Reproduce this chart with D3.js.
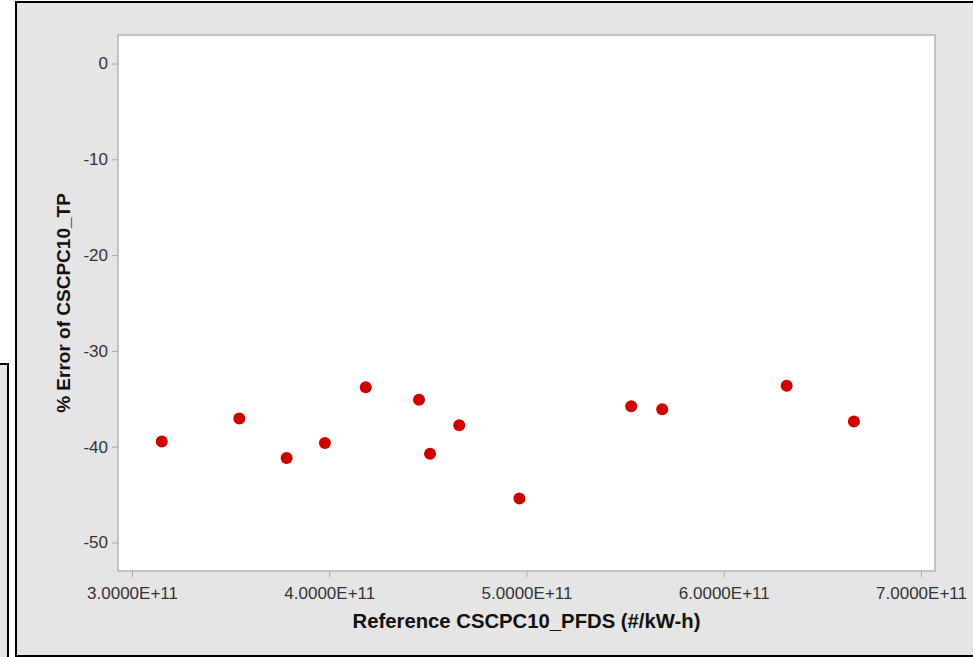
<!DOCTYPE html>
<html>
<head>
<meta charset="utf-8">
<script src="https://cdn.jsdelivr.net/npm/d3@7"></script>
<style>
  body { margin: 0; background: #fff; }
  svg { display: block; }
</style>
</head>
<body>
<div id="chart"></div>
<script>
// reference value (#/kW-h) vs % error
var refValues = [3.151e11, 3.544e11, 3.784e11, 3.978e11, 4.185e11, 4.455e11, 4.511e11,
                 4.659e11, 4.964e11, 5.531e11, 5.688e11, 6.319e11, 6.660e11];
var pctError = [-39.45, -37.07, -41.19, -39.62, -33.80, -35.09, -40.73,
                -37.77, -45.40, -35.79, -36.10, -33.63, -37.36];
var xTicks = [3e11, 4e11, 5e11, 6e11, 7e11];
var yTicks = [0, -10, -20, -30, -40, -50];

var width = 973, height = 657;
var plot = {left: 118, top: 35, right: 935, bottom: 571};

var svg = d3.select('#chart').append('svg')
    .attr('width', width)
    .attr('height', height);

// stray frame on the far left
svg.append('rect')
    .attr('x', -10).attr('y', 364)
    .attr('width', 18).attr('height', 400)
    .attr('fill', '#e5e5e5')
    .attr('stroke', '#000')
    .attr('stroke-width', 2);

// main frame
svg.append('rect')
    .attr('x', 16).attr('y', 2)
    .attr('width', 980).attr('height', 654)
    .attr('fill', '#e5e5e5')
    .attr('stroke', '#000')
    .attr('stroke-width', 2);

var x = d3.scaleLinear()
    .domain([2.929e11, 7.071e11])
    .range([plot.left, plot.right]);
var y = d3.scaleLinear()
    .domain([-52.98, 2.98])
    .range([plot.bottom, plot.top]);

svg.append('rect')
    .attr('x', plot.left).attr('y', plot.top)
    .attr('width', plot.right - plot.left)
    .attr('height', plot.bottom - plot.top)
    .attr('fill', '#fff')
    .attr('stroke', '#b4b4b4')
    .attr('stroke-width', 1.5);

var xAxis = svg.append('g')
    .attr('transform', 'translate(0,' + plot.bottom + ')')
    .call(d3.axisBottom(x).tickValues(xTicks).tickSize(6).tickPadding(6)
      .tickFormat(function(d) { return (d / 1e11).toFixed(4) + 'E+11'; }));

var yAxis = svg.append('g')
    .attr('transform', 'translate(' + plot.left + ',0)')
    .call(d3.axisLeft(y).tickValues(yTicks).tickSize(6).tickPadding(4)
      .tickFormat(function(d) { return String(d); }));

[xAxis, yAxis].forEach(function(a) {
  a.select('.domain').remove();
  a.selectAll('.tick line').attr('stroke', '#aaa').attr('stroke-width', 1);
  a.selectAll('.tick text')
      .attr('fill', '#333')
      .style('font-family', 'Liberation Sans, Arial, sans-serif')
      .style('font-size', '17px');
});
xAxis.selectAll('.tick text').attr('dy', '0.95em');

svg.append('g')
  .selectAll('circle')
  .data(refValues)
  .enter().append('circle')
    .attr('cx', function(d) { return x(d); })
    .attr('cy', function(d, i) { return y(pctError[i]); })
    .attr('r', 6)
    .attr('fill', '#cc0000');

svg.append('text')
    .attr('x', (plot.left + plot.right) / 2)
    .attr('y', 628)
    .attr('text-anchor', 'middle')
    .style('font-family', 'Liberation Sans, Arial, sans-serif')
    .style('font-size', '20.3px')
    .style('font-weight', 'bold')
    .attr('fill', '#111')
    .text('Reference CSCPC10_PFDS (#/kW-h)');

svg.append('text')
    .attr('transform', 'translate(70,' + (plot.top + plot.bottom) / 2 + ') rotate(-90)')
    .attr('text-anchor', 'middle')
    .style('font-family', 'Liberation Sans, Arial, sans-serif')
    .style('font-size', '19px')
    .style('font-weight', 'bold')
    .attr('fill', '#111')
    .text('% Error of CSCPC10_TP');
</script>
</body>
</html>
